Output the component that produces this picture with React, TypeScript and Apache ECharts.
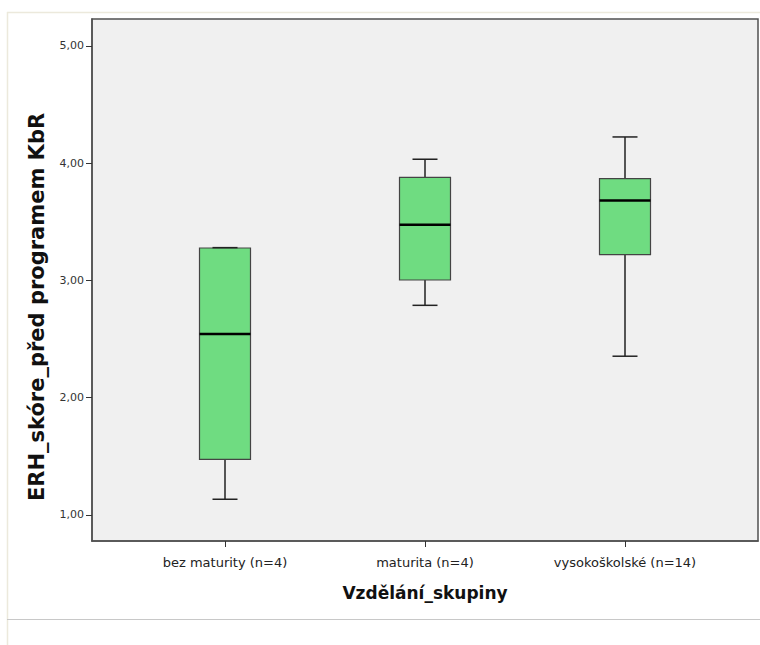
import React, { useEffect, useRef } from "react";
import * as echarts from "echarts";

const categories = ["bez maturity (n=4)", "maturita (n=4)", "vysokoškolské (n=14)"];
// [min, Q1, median, Q3, max]
const boxMin = [1.134, 2.788, 2.354];
const boxQ1 = [1.475, 3.004, 3.22];
const boxMedian = [2.544, 3.476, 3.681];
const boxQ3 = [3.277, 3.88, 3.868];
const boxMax = [3.28, 4.034, 4.224];
const yTicks = [1, 2, 3, 4, 5];
const xTicks = [0, 1, 2];

const yTitle = "ERH_skóre_před programem KbR";
const xTitle = "Vzdělání_skupiny";

export default function App() {
  const ref = useRef<HTMLDivElement>(null);
  useEffect(() => {
    if (!ref.current) return;
    const chart = echarts.init(ref.current, null, { renderer: "svg" });
    const data = categories.map((_, i) => [i, boxMin[i], boxQ1[i], boxMedian[i], boxQ3[i], boxMax[i]]);
    const font = "DejaVu Sans";
    chart.setOption({
      animation: false,
      backgroundColor: "#ffffff",
      grid: {
        left: 92,
        top: 19,
        width: 666,
        height: 522,
        show: true,
        backgroundColor: "#f0f0f0",
        borderColor: "#505050",
        borderWidth: 1.5,
      },
      xAxis: {
        type: "value",
        min: -0.665,
        max: 2.665,
        splitLine: { show: false },
        axisLine: { show: true, onZero: false, lineStyle: { color: "#505050", width: 1.5 } },
        axisTick: {
          show: true,
          customValues: xTicks,
          length: 6,
          lineStyle: { color: "#333", width: 1 },
        },
        axisLabel: {
          customValues: xTicks,
          formatter: (v: number) => categories[Math.round(v)] ?? "",
          fontFamily: font,
          fontSize: 13,
          color: "#222",
          margin: 15,
        },
      },
      yAxis: {
        type: "value",
        min: 0.778,
        max: 5.23,
        splitLine: { show: false },
        axisLine: { show: true, onZero: false, lineStyle: { color: "#505050", width: 1.5 } },
        axisTick: {
          show: true,
          customValues: yTicks,
          length: 6,
          lineStyle: { color: "#333", width: 1 },
        },
        axisLabel: {
          customValues: yTicks,
          formatter: (v: number) => v.toFixed(2).replace(".", ","),
          fontFamily: font,
          fontSize: 11,
          color: "#333",
          margin: 8,
        },
      },
      graphic: [
        { type: "line", shape: { x1: 7.5, y1: 12, x2: 7.5, y2: 645 }, style: { stroke: "#ece9dc", lineWidth: 1.5 }, silent: true },
        { type: "line", shape: { x1: 7, y1: 12.5, x2: 760, y2: 12.5 }, style: { stroke: "#ece9dc", lineWidth: 1.5 }, silent: true },
        { type: "line", shape: { x1: 7, y1: 619.5, x2: 760, y2: 619.5 }, style: { stroke: "#c8c8c8", lineWidth: 1 }, silent: true },
        {
          type: "text",
          x: 37,
          y: 307,
          rotation: Math.PI / 2,
          style: { text: yTitle, fontFamily: font, fontWeight: "bold", fontSize: 21, fill: "#111", align: "center", verticalAlign: "middle" },
        },
        {
          type: "text",
          x: 425,
          y: 593,
          style: { text: xTitle, fontFamily: font, fontWeight: "bold", fontSize: 17, fill: "#111", align: "center", verticalAlign: "middle" },
        },
      ],
      series: [
        {
          type: "custom",
          data,
          encode: { x: 0, y: [1, 2, 3, 4, 5] },
          renderItem: (params: any, api: any) => {
            const x = api.value(0);
            const pMin = api.coord([x, api.value(1)]);
            const pQ1 = api.coord([x, api.value(2)]);
            const pMed = api.coord([x, api.value(3)]);
            const pQ3 = api.coord([x, api.value(4)]);
            const pMax = api.coord([x, api.value(5)]);
            const unit = api.size([1, 0])[0];
            const hw = unit * 0.1275;
            const cw = unit * 0.0625;
            const cx = pMed[0];
            const whisker = { stroke: "#222", lineWidth: 1.5 };
            return {
              type: "group",
              children: [
                { type: "line", shape: { x1: cx, y1: pMax[1], x2: cx, y2: pQ3[1] }, style: whisker },
                { type: "line", shape: { x1: cx, y1: pQ1[1], x2: cx, y2: pMin[1] }, style: whisker },
                {
                  type: "rect",
                  shape: { x: cx - hw, y: pQ3[1], width: hw * 2, height: pQ1[1] - pQ3[1] },
                  style: { fill: "#6fdc81", stroke: "#444", lineWidth: 1.2 },
                },
                { type: "line", shape: { x1: cx - hw, y1: pMed[1], x2: cx + hw, y2: pMed[1] }, style: { stroke: "#000", lineWidth: 2.5 } },
                { type: "line", shape: { x1: cx - cw, y1: pMax[1], x2: cx + cw, y2: pMax[1] }, style: whisker },
                { type: "line", shape: { x1: cx - cw, y1: pMin[1], x2: cx + cw, y2: pMin[1] }, style: whisker },
              ],
            };
          },
        },
      ],
    });
    return () => chart.dispose();
  }, []);
  return <div ref={ref} style={{ position: "fixed", left: 0, top: 0, width: 760, height: 645 }} />;
}
